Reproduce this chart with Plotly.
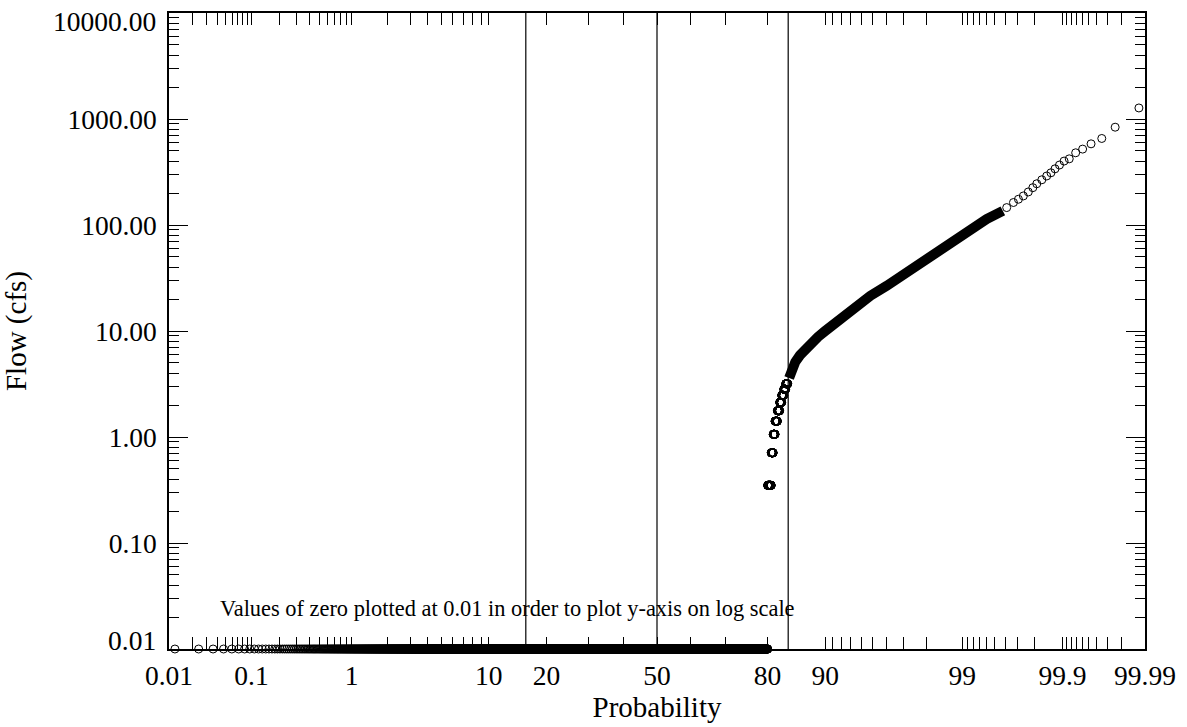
import math
import plotly.graph_objects as go
from statistics import NormalDist

# ---------------- data ----------------
N_TOTAL = 8370            # number of daily flow values
N_ZERO = 6700             # number of zero flows (plotted at 0.01)
ZERO_PLOT_VALUE = 0.01

# low, quantised flows (cfs) and how many days had each value
low_flow = [0.35, 0.71, 1.06, 1.41, 1.77, 2.12, 2.47, 2.82, 3.18]
low_count = [63, 34, 32, 39, 38, 33, 33, 31, 32]

# densely overlapping part of the curve: probability (%) / flow (cfs)
band_prob = [84.3, 84.8, 85.4, 86.2, 87.0, 87.8, 89.0, 90.0, 91.5, 93.3,
             94.8, 96.0, 97.0, 97.75, 98.35, 98.8, 99.15, 99.4, 99.58]
band_flow = [3.6, 4.4, 5.1, 5.9, 6.7, 7.5, 8.8, 10.0, 12.4, 16.5,
             21.5, 26.7, 34.4, 44.3, 57.0, 73.5, 91.3, 113.5, 136.0]

# individually visible high flows
top_prob = [99.615, 99.67, 99.706, 99.738, 99.767, 99.791, 99.810, 99.832,
            99.851, 99.866, 99.879, 99.892, 99.904, 99.916, 99.929, 99.941,
            99.953, 99.965, 99.976, 99.988]
top_flow = [146, 163, 175, 188, 205, 225, 245, 267, 290, 311, 339, 368,
            401, 421, 480, 520, 583, 655, 837, 1271]

# reference lines (median and +/- one standard deviation)
ref_line_probs = [15.87, 50.0, 84.13]

# axis ticks
x_tick_probs = [0.01, 0.02, 0.03, 0.04, 0.05, 0.06, 0.07, 0.08, 0.09,
                0.1, 0.2, 0.3, 0.4, 0.5, 0.6, 0.7, 0.8, 0.9,
                1, 2, 3, 4, 5, 6, 7, 8, 9,
                10, 20, 30, 40, 50, 60, 70, 80, 90,
                91, 92, 93, 94, 95, 96, 97, 98, 99,
                99.1, 99.2, 99.3, 99.4, 99.5, 99.6, 99.7, 99.8, 99.9,
                99.91, 99.92, 99.93, 99.94, 99.95, 99.96, 99.97, 99.98, 99.99]
x_labeled = {0.01: "0.01", 0.1: "0.1", 1: "1", 10: "10", 20: "20", 50: "50",
             80: "80", 90: "90", 99: "99", 99.9: "99.9", 99.99: "99.99"}
y_tick_vals = [0.01, 0.1, 1, 10, 100, 1000, 10000]
y_tick_text = ["0.01", "0.10", "1.00", "10.00", "100.00", "1000.00", "10000.00"]
y_minor_mult = [2, 3, 4, 5, 6, 7, 8, 9]

# ---------------- helpers ----------------
nd = NormalDist()


def z(pct):
    return nd.inv_cdf(pct / 100.0)


def plot_pos(rank):
    return 100.0 * rank / (N_TOTAL + 1)


FONT = "Liberation Serif"
TICK_SIZE = 27.5

# zero values
zero_x = [z(plot_pos(r)) for r in range(1, N_ZERO + 1)]
zero_y = [ZERO_PLOT_VALUE] * N_ZERO

# quantised low values
low_x, low_y = [], []
rank = N_ZERO
for v, c in zip(low_flow, low_count):
    for _ in range(c):
        rank += 1
        low_x.append(z(plot_pos(rank)))
        low_y.append(v)

marker = dict(symbol="circle-open", size=8, color="black", line=dict(width=1, color="black"))

fig = go.Figure()
fig.add_trace(go.Scatter(x=zero_x, y=zero_y, mode="markers", marker=marker,
                         cliponaxis=False, showlegend=False, hoverinfo="skip"))
fig.add_trace(go.Scatter(x=low_x, y=low_y, mode="markers", marker=marker,
                         cliponaxis=False, showlegend=False, hoverinfo="skip"))
fig.add_trace(go.Scatter(x=[z(p) for p in band_prob], y=band_flow, mode="lines",
                         line=dict(color="black", width=10),
                         showlegend=False, hoverinfo="skip"))
fig.add_trace(go.Scatter(x=[z(p) for p in top_prob], y=top_flow, mode="markers",
                         marker=marker, cliponaxis=False, showlegend=False,
                         hoverinfo="skip"))

for p in ref_line_probs:
    fig.add_shape(type="line", xref="x", yref="paper", x0=z(p), x1=z(p), y0=0, y1=1,
                  line=dict(color="black", width=1.2))

fig.add_annotation(text="Values of zero plotted at 0.01 in order to plot y-axis on log scale",
                   xref="paper", yref="paper", x=(218 - 169) / 976, y=(649 - 608.5) / 636,
                   xanchor="left", yanchor="middle", showarrow=False,
                   font=dict(family=FONT, size=22.4, color="black"))

# edge y tick labels are nudged inside the axis range (as in the original)
axis_ticktext = list(y_tick_text)
for i, (val, txt) in enumerate(zip(y_tick_vals, y_tick_text)):
    if val in (min(y_tick_vals), max(y_tick_vals)):
        axis_ticktext[i] = ""
        fig.add_annotation(text=txt, xref="paper", yref="y", x=0, y=math.log10(val),
                           xanchor="right", yanchor="middle", xshift=-11,
                           yshift=9 if val == min(y_tick_vals) else -8,
                           showarrow=False,
                           font=dict(family=FONT, size=TICK_SIZE, color="black"))

y_minor = [m * d for d in [0.01, 0.1, 1, 10, 100, 1000] for m in y_minor_mult]

fig.update_layout(
    width=1187, height=727,
    margin=dict(l=169, r=42, t=13, b=78),
    paper_bgcolor="white", plot_bgcolor="white",
    font=dict(family=FONT, size=26, color="black"),
    xaxis=dict(
        range=[z(0.01), z(99.99)],
        tickvals=[z(p) for p in x_tick_probs],
        ticktext=[x_labeled.get(p, "") for p in x_tick_probs],
        ticks="inside", ticklen=12, tickwidth=1.3, tickcolor="black",
        showline=True, linecolor="black", linewidth=1.5, mirror="ticks",
        showgrid=False, zeroline=False, automargin=False,
        tickfont=dict(family=FONT, size=TICK_SIZE), ticklabelstandoff=1,
        title=dict(text="Probability", font=dict(family=FONT, size=29), standoff=2),
    ),
    yaxis=dict(
        type="log", range=[-2, 4],
        tickvals=y_tick_vals, ticktext=axis_ticktext,
        ticks="inside", ticklen=19, tickwidth=1.3, tickcolor="black",
        minor=dict(tickvals=y_minor, ticks="inside", ticklen=10, tickwidth=1.3,
                   tickcolor="black", showgrid=False),
        showline=True, linecolor="black", linewidth=1.5, mirror="ticks",
        showgrid=False, zeroline=False, automargin=False,
        tickfont=dict(family=FONT, size=TICK_SIZE), ticklabelstandoff=5,
        title=dict(text="Flow (cfs)", font=dict(family=FONT, size=29), standoff=32),
    ),
)

fig.write_html("out.html")
